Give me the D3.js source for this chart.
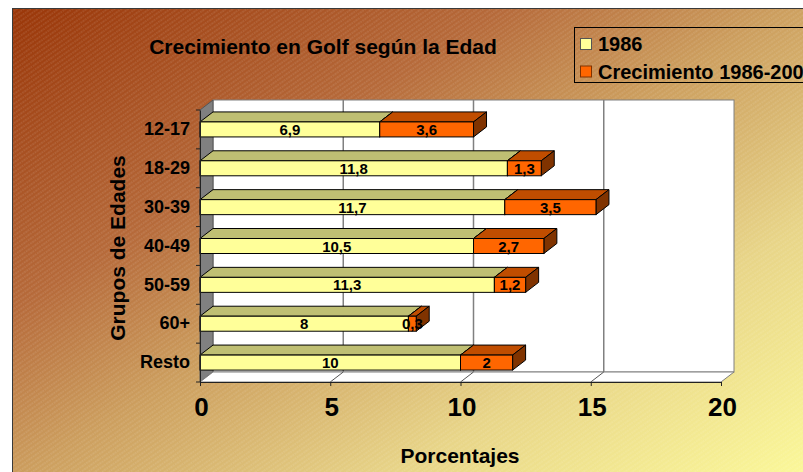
<!DOCTYPE html>
<html>
<head>
<meta charset="utf-8">
<script src="https://cdn.jsdelivr.net/npm/d3@7"></script>
<style>
body { margin: 0; background: #fff; }
svg text { font-family: "Liberation Sans", Arial, sans-serif; font-weight: bold; fill: #000; }
</style>
</head>
<body>
<svg width="803" height="472"></svg>
<script>
// datos
var categories = ["12-17", "18-29", "30-39", "40-49", "50-59", "60+", "Resto"];
var values1986 = [6.9, 11.8, 11.7, 10.5, 11.3, 8, 10];
var growth = [3.6, 1.3, 3.5, 2.7, 1.2, 0.3, 2];
var seriesNames = ["1986", "Crecimiento 1986-2000"];
var xTicks = [0, 5, 10, 15, 20];

var svg = d3.select('svg');
var defs = svg.append('defs');

// fondo con degradado y rayas
var grad = defs.append('linearGradient')
	.attr('id', 'bgGrad')
	.attr('x1', 0).attr('y1', 0).attr('x2', 1).attr('y2', 1);
[[0, '#9a3608'], [0.3, '#b66a3a'], [0.47, '#cc9e5e'], [0.7, '#e8d588'], [1, '#ffff9c']].forEach(function(s) {
	grad.append('stop').attr('offset', s[0]).attr('stop-color', s[1]);
});
var pat = defs.append('pattern')
	.attr('id', 'stripes')
	.attr('patternUnits', 'userSpaceOnUse')
	.attr('width', 8).attr('height', 4)
	.attr('patternTransform', 'rotate(-35)');
pat.append('line')
	.attr('x1', 0).attr('y1', 1).attr('x2', 8).attr('y2', 1)
	.style('stroke', '#fff')
	.style('stroke-opacity', 0.25)
	.style('stroke-width', 0.8)
	.style('stroke-dasharray', '1.5,1');

svg.append('rect')
	.attr('x', 12.5).attr('y', 8.5)
	.attr('width', 820).attr('height', 500)
	.style('fill', 'url(#bgGrad)')
	.style('stroke', '#3a3a3a');
svg.append('rect')
	.attr('x', 13).attr('y', 9)
	.attr('width', 820).attr('height', 500)
	.style('fill', 'url(#stripes)');

// escalas
var x = d3.scaleLinear().domain([0, 20]).range([200, 721]);
var y = d3.scaleBand().domain(categories).range([110, 382]);
var depth = {dx: 13, dy: 10};
var barH = 15;
var plotTop = y.range()[0], plotBottom = y.range()[1];

var fmt = d3.formatLocale({decimal: ",", thousands: ".", grouping: [3], currency: ["", ""]}).format("~g");

var g = svg.append('g');

// pared del fondo
g.append('rect')
	.attr('x', x(0) + depth.dx)
	.attr('y', plotTop - depth.dy)
	.attr('width', x(20) - x(0))
	.attr('height', plotBottom - plotTop)
	.style('fill', '#fff')
	.style('stroke', '#808080');

g.selectAll('.grid')
	.data(xTicks.slice(1, -1))
	.enter().append('line')
	.attr('x1', function(d) { return x(d) + depth.dx; })
	.attr('x2', function(d) { return x(d) + depth.dx; })
	.attr('y1', plotTop - depth.dy)
	.attr('y2', plotBottom - depth.dy)
	.style('stroke', '#808080')
	.style('stroke-width', 1.5);

// pared izquierda
g.append('polygon')
	.attr('points', [[x(0), plotTop], [x(0) + depth.dx, plotTop - depth.dy],
		[x(0) + depth.dx, plotBottom - depth.dy], [x(0), plotBottom]].join(' '))
	.style('fill', '#808080')
	.style('stroke', '#555');

// suelo
g.append('polygon')
	.attr('points', [[x(0), plotBottom], [x(0) + depth.dx, plotBottom - depth.dy],
		[x(20) + depth.dx, plotBottom - depth.dy], [x(20), plotBottom]].join(' '))
	.style('fill', '#fff')
	.style('stroke', '#808080');
g.selectAll('.floor')
	.data(xTicks.slice(1, -1))
	.enter().append('line')
	.attr('x1', function(d) { return x(d); })
	.attr('x2', function(d) { return x(d) + depth.dx; })
	.attr('y1', plotBottom)
	.attr('y2', plotBottom - depth.dy)
	.style('stroke', '#555');

// barras
var colors = [
	{front: '#ffff99', top: '#bfbf73', side: '#80804d'},
	{front: '#ff6600', top: '#c04d00', side: '#803300'}
];
var rows = categories.map(function(c, i) {
	return {cat: c, segs: [
		{x0: 0, x1: values1986[i], v: values1986[i], s: 0},
		{x0: values1986[i], x1: values1986[i] + growth[i], v: growth[i], s: 1}
	]};
});

rows.forEach(function(r) {
	var yc = y(r.cat) + y.bandwidth() / 2;
	var yt = yc - barH / 2, yb = yc + barH / 2;
	r.segs.forEach(function(s) {
		var a = x(s.x0), b = x(s.x1), col = colors[s.s];
		g.append('polygon')
			.attr('points', [[a, yt], [a + depth.dx, yt - depth.dy], [b + depth.dx, yt - depth.dy], [b, yt]].join(' '))
			.style('fill', col.top).style('stroke', '#000');
		g.append('polygon')
			.attr('points', [[b, yt], [b + depth.dx, yt - depth.dy], [b + depth.dx, yb - depth.dy], [b, yb]].join(' '))
			.style('fill', col.side).style('stroke', '#000');
		g.append('rect')
			.attr('x', a).attr('y', yt)
			.attr('width', b - a).attr('height', barH)
			.style('fill', col.front).style('stroke', '#000');
	});
});

rows.forEach(function(r) {
	var yc = y(r.cat) + y.bandwidth() / 2;
	r.segs.forEach(function(s) {
		g.append('text')
			.attr('x', (x(s.x0) + x(s.x1)) / 2)
			.attr('y', yc + 5.5)
			.attr('text-anchor', 'middle')
			.style('font-size', '15px')
			.text(fmt(s.v));
	});
});

// ejes
var xAxis = svg.append('g')
	.attr('transform', 'translate(0,' + plotBottom + ')')
	.call(d3.axisBottom(x).tickValues(xTicks).tickSize(4).tickSizeOuter(0).tickPadding(12));
xAxis.select('.domain').style('stroke', '#222');
xAxis.selectAll('.tick line').style('stroke', '#222');
xAxis.selectAll('.tick text')
	.style('font-size', '26px')
	.attr('dy', '0.71em')
	.attr('dx', 1);

var yAxis = svg.append('g')
	.attr('transform', 'translate(' + x(0) + ',0)')
	.call(d3.axisLeft(y).tickSize(0).tickPadding(10));
yAxis.select('.domain').style('stroke', '#222');
yAxis.selectAll('.tick text').style('font-size', '18px');
yAxis.selectAll('.bound')
	.data(categories.map(function(c) { return y(c); }).concat([plotBottom]))
	.enter().append('line')
	.attr('x1', -4).attr('x2', 0)
	.attr('y1', function(d) { return d; })
	.attr('y2', function(d) { return d; })
	.style('stroke', '#222');

// titulos
svg.append('text')
	.attr('x', 323).attr('y', 54)
	.attr('text-anchor', 'middle')
	.style('font-size', '21px')
	.text('Crecimiento en Golf según la Edad');
svg.append('text')
	.attr('x', 460).attr('y', 463)
	.attr('text-anchor', 'middle')
	.style('font-size', '21px')
	.text('Porcentajes');
svg.append('text')
	.attr('transform', 'translate(125,248) rotate(-90)')
	.attr('text-anchor', 'middle')
	.style('font-size', '21px')
	.text('Grupos de Edades');

// leyenda
var leg = svg.append('g');
leg.append('rect')
	.attr('x', 574.5).attr('y', 27.5)
	.attr('width', 260).attr('height', 55)
	.style('fill', 'none')
	.style('stroke', '#000');
seriesNames.forEach(function(n, i) {
	var ly = 44 + i * 27.5;
	leg.append('rect')
		.attr('x', 580.5).attr('y', ly - 5.5)
		.attr('width', 11).attr('height', 11)
		.style('fill', colors[i].front)
		.style('stroke', i === 0 ? '#555' : '#803300');
	leg.append('text')
		.attr('x', 598).attr('y', ly + 7)
		.style('font-size', '20px')
		.text(n);
});
</script>
</body>
</html>
